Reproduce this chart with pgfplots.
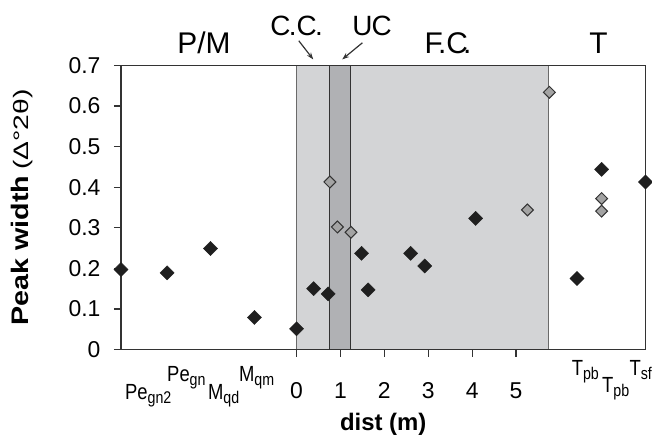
\documentclass[border=0pt]{standalone}
\usepackage{graphicx}
\usepackage{pgfplots}
\pgfplotsset{compat=1.18}
\usepackage{fontspec}
\setmainfont{Liberation Sans}
\usetikzlibrary{arrows.meta}
\definecolor{lightband}{HTML}{D3D4D6}
\definecolor{darkband}{HTML}{B0B1B4}
\definecolor{axisgray}{HTML}{333333}
\definecolor{bandedge}{HTML}{6A6A6A}
\definecolor{graymark}{HTML}{A3A3A3}
\newcommand\sub[1]{\raisebox{-0.35ex}{\fontsize{17}{17}\selectfont #1}}
\newcommand\lab[1]{\scalebox{0.84}[1]{\fontsize{22}{24}\selectfont #1}}
\begin{document}
\begin{tikzpicture}
\path[use as bounding box] (-121bp,-86.5bp) rectangle (531bp,349.5bp);
\begin{axis}[
  scale only axis, width=524.5bp, height=284bp,
  xmin=-4, xmax=7.95, ymin=0, ymax=0.7,
  axis on top, clip=false,
  axis line style={axisgray, line width=1.5bp},
  every tick/.style={axisgray, line width=1.2bp},
  tick align=outside, major tick length=7bp,
  xtick pos=bottom, ytick pos=left,
  xtick={0,1,2,3,4,5},
  ytick={0,0.1,0.2,0.3,0.4,0.5,0.6,0.7},
  yticklabel style={/pgf/number format/fixed, /pgf/number format/precision=1},
  /pgf/number format/assume math mode=true,
  tick label style={font=\fontsize{23}{27}\selectfont, text=black},
  xticklabel style={anchor=base, yshift=-42bp},
  yticklabel style={xshift=-10bp},
  xlabel={\textbf{dist (m)}},
  xlabel style={font=\fontsize{24}{28}\selectfont, at={(axis description cs:0.5,0)}, anchor=base, yshift=-80.5bp},
  ylabel={\scalebox{1.2}[1]{\textbf{Peak width}}\hspace{6bp}\scalebox{1.35}[1]{\fontsize{21}{23}\selectfont(Δ°2θ)}},
  ylabel style={font=\fontsize{24}{28}\selectfont, at={(axis description cs:0,0.5)}, anchor=center, yshift=99bp},
]
% shaded zones
\addplot[fill=lightband, draw=bandedge, line width=1bp] coordinates {(0,0) (0,0.7) (5.75,0.7) (5.75,0)} -- cycle;
\addplot[fill=darkband, draw=axisgray, line width=1bp] coordinates {(0.76,0) (0.76,0.7) (1.24,0.7) (1.24,0)} -- cycle;
% black diamonds
\addplot[only marks, mark=square*, mark size=5bp, mark options={rotate=45, fill=black!88, draw=black!88}] coordinates {
(-4,0.197) (-2.95,0.189) (-1.96,0.249) (-0.96,0.079)
(0,0.051) (0.39,0.150) (0.72,0.137) (1.48,0.237) (1.63,0.147)
(2.60,0.237) (2.92,0.206) (4.08,0.323) (6.39,0.175) (6.95,0.444) (7.95,0.413)
};
% gray diamonds
\addplot[only marks, mark=square*, mark size=4.2bp, mark options={rotate=45, fill=graymark, draw=axisgray, line width=1bp}] coordinates {
(0.76,0.413) (0.93,0.302) (1.24,0.289) (5.26,0.344) (5.76,0.634) (6.95,0.372) (6.95,0.341)
};
% zone labels
\node[anchor=base, font=\fontsize{30}{30}\selectfont] at (axis cs:-2.11,0.7296) {P/M};
\node[anchor=base, font=\fontsize{28}{28}\selectfont] at (axis cs:0.0,0.7746) {C\kern-0.06em.C\kern-0.06em.};
\node[anchor=base, font=\fontsize{28}{28}\selectfont] at (axis cs:1.72,0.7746) {U\kern-0.04em C};
\node[anchor=base, font=\fontsize{30}{30}\selectfont] at (axis cs:3.45,0.7296) {F\kern-0.16em.C\kern-0.16em.};
\node[anchor=base, font=\fontsize{30}{30}\selectfont] at (axis cs:6.88,0.7296) {T};
\draw[axisgray, line width=1.2bp, -{Stealth[length=7bp,width=5bp]}] (axis cs:0.05,0.761) -- (axis cs:0.38,0.715);
\draw[axisgray, line width=1.2bp, -{Stealth[length=7bp,width=5bp]}] (axis cs:1.50,0.756) -- (axis cs:1.04,0.715);
% sample labels
\node[anchor=base, inner sep=0pt] at (axis cs:-3.38,-0.124) {\lab{Pe\sub{gn2}}};
\node[anchor=base, inner sep=0pt] at (axis cs:-2.51,-0.079) {\lab{Pe\sub{gn}}};
\node[anchor=base, inner sep=0pt] at (axis cs:-1.66,-0.124) {\lab{M\sub{qd}}};
\node[anchor=base, inner sep=0pt] at (axis cs:-0.91,-0.079) {\lab{M\sub{qm}}};
\node[anchor=base, inner sep=0pt] at (axis cs:6.58,-0.063) {\lab{T\sub{pb}}};
\node[anchor=base, inner sep=0pt] at (axis cs:7.27,-0.107) {\lab{T\sub{pb}}};
\node[anchor=base, inner sep=0pt] at (axis cs:7.84,-0.063) {\lab{T\sub{sf}}};
\end{axis}
\end{tikzpicture}
\end{document}
